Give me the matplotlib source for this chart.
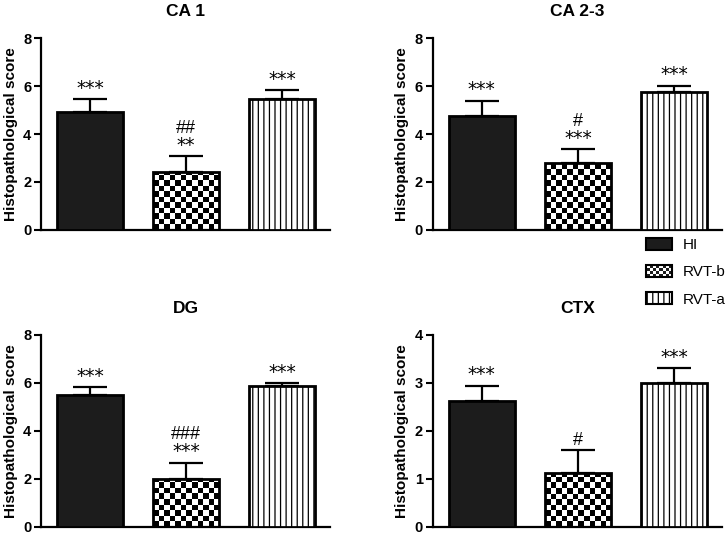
import numpy as np
import matplotlib
matplotlib.use('Agg')
import matplotlib.pyplot as plt
from matplotlib.patches import Patch, Rectangle
from matplotlib.legend_handler import HandlerBase

groups = ['HI', 'RVT-b', 'RVT-a']
panel_titles = ['CA 1', 'CA 2-3', 'DG', 'CTX']

# mean scores and upper SEM
ca1_mean = [4.90, 2.40, 5.46]
ca1_err = [0.56, 0.68, 0.36]
ca23_mean = [4.77, 2.78, 5.74]
ca23_err = [0.62, 0.58, 0.27]
dg_mean = [5.51, 2.01, 5.86]
dg_err = [0.32, 0.67, 0.13]
ctx_mean = [2.63, 1.13, 3.00]
ctx_err = [0.31, 0.47, 0.31]

# significance marks: (stars, hashes) per bar
ca1_marks = [('***', ''), ('**', '##'), ('***', '')]
ca23_marks = [('***', ''), ('***', '#'), ('***', '')]
dg_marks = [('***', ''), ('***', '###'), ('***', '')]
ctx_marks = [('***', ''), ('', '#'), ('***', '')]

y_max = [8, 8, 8, 4]
y_step = [2, 2, 2, 1]

plt.rcParams['font.family'] = 'Liberation Sans'
plt.rcParams['hatch.linewidth'] = 0.9

DARK = '#1c1c1c'


class HandlerChecker(HandlerBase):
    # small checkerboard swatch for the legend
    def create_artists(self, legend, orig_handle, xdescent, ydescent,
                       width, height, fontsize, trans):
        x0, y0 = -xdescent, -ydescent
        arts = [Rectangle((x0, y0), width, height, facecolor='white',
                          edgecolor='none', transform=trans)]
        nx, ny = 8, 4
        cw, ch = width / nx, height / ny
        for r in range(ny):
            for c in range(nx):
                if (r + c) % 2 == 0:
                    arts.append(Rectangle((x0 + c * cw, y0 + r * ch), cw, ch,
                                          facecolor=DARK, edgecolor='none',
                                          transform=trans))
        arts.append(Rectangle((x0, y0), width, height, facecolor='none',
                              edgecolor='black', lw=1.5, transform=trans))
        return arts


fig = plt.figure(figsize=(7.25, 5.36), dpi=100)
positions = [(0.0566, 0.571), (0.597, 0.571), (0.0566, 0.017), (0.597, 0.017)]
w, h = 0.399, 0.358

data = [(ca1_mean, ca1_err, ca1_marks), (ca23_mean, ca23_err, ca23_marks),
        (dg_mean, dg_err, dg_marks), (ctx_mean, ctx_err, ctx_marks)]

x = np.arange(len(groups))
bw = 0.69
checker_px = 5.5

for i, (means, errs, marks) in enumerate(data):
    ax = fig.add_axes([positions[i][0], positions[i][1], w, h])
    ax.set_xlim(-0.51, 2.5)
    ax.set_ylim(0, y_max[i])
    bars = ax.bar(x, means, width=bw, color=[DARK, 'none', 'white'],
                  edgecolor='black', linewidth=2, zorder=3)
    bars[2].set_hatch('|||')
    ax.errorbar(x, means, yerr=[np.zeros(3), errs], fmt='none', ecolor='black',
                elinewidth=1.6, capsize=12, capthick=1.6, zorder=2)

    # checkerboard fill for RVT-b, cell size fixed in pixels
    b = bars[1]
    p0 = ax.transData.transform((0, 0))
    p1 = ax.transData.transform((1, 1))
    px_x, px_y = p1[0] - p0[0], p1[1] - p0[1]
    nx = max(1, int(round(bw * px_x / checker_px)))
    cell_y = checker_px / px_y
    ny = int(np.ceil(means[1] / cell_y)) + 1
    board = np.indices((ny, nx)).sum(axis=0) % 2
    x0 = b.get_x()
    im = ax.imshow(board, cmap='gray', vmin=0, vmax=1, interpolation='none',
                   extent=(x0, x0 + bw, 0, ny * cell_y), origin='lower',
                   aspect='auto', zorder=2.5)
    im.set_clip_path(b)
    ax.set_xlim(-0.51, 2.5)
    ax.set_ylim(0, y_max[i])

    for j in range(3):
        top = means[j] + errs[j]
        stars, hashes = marks[j]
        off = 1
        if stars:
            ax.annotate(stars, (x[j], top), xytext=(0, off), textcoords='offset points',
                        ha='center', va='bottom', fontsize=13.5, family='DejaVu Sans')
            off += 13
        if hashes:
            ax.annotate(hashes, (x[j], top), xytext=(0, off), textcoords='offset points',
                        ha='center', va='bottom', fontsize=13)

    ax.set_title(panel_titles[i], fontsize=12.5, fontweight='bold', pad=16)
    ax.set_ylabel('Histopathological score', fontsize=11, fontweight='bold', labelpad=4)
    ax.set_yticks(np.arange(0, y_max[i] + 0.1, y_step[i]))
    ax.set_xticks([])
    for lab in ax.get_yticklabels():
        lab.set_fontweight('bold')
    ax.tick_params(axis='y', labelsize=10.5, length=5, width=1.5, pad=2)
    ax.spines['top'].set_visible(False)
    ax.spines['right'].set_visible(False)
    ax.spines['left'].set_linewidth(1.6)
    ax.spines['bottom'].set_linewidth(1.6)

h_hi = Patch(facecolor=DARK, edgecolor='black', linewidth=1.5)
h_b = Patch(facecolor='white', edgecolor='black', linewidth=1.5)
h_a = Patch(facecolor='white', edgecolor='black', hatch='|||', linewidth=1.5)
fig.legend([h_hi, h_b, h_a], groups, loc='upper left', bbox_to_anchor=(0.883, 0.567),
           frameon=False, fontsize=11, handlelength=1.7, handleheight=0.8,
           labelspacing=0.85, handletextpad=0.7, borderaxespad=0,
           handler_map={h_b: HandlerChecker()})

fig.savefig('out.png', dpi=100)
